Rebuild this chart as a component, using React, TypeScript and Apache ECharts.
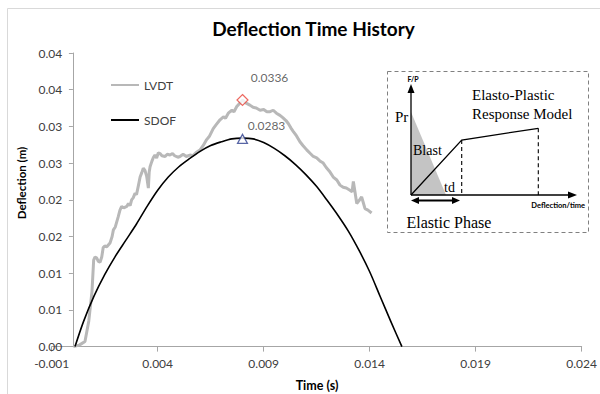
import React, { useEffect, useRef } from "react";
import * as echarts from "echarts";

const titleText = "Deflection Time History";
const xAxisName = "Time (s)";
const yAxisName = "Deflection (m)";
const seriesNames = ["LVDT", "SDOF"];

const xTicks = [-0.001, 0.004, 0.009, 0.014, 0.019, 0.024];
const yTickLabels = ["0.00", "0.01", "0.01", "0.02", "0.02", "0.03", "0.03", "0.04", "0.04"];

const lvdtTime = [
  0.00002, 0.0003, 0.00057, 0.00075, 0.0009, 0.00098, 0.00104, 0.00112, 0.0012, 0.00128,
  0.00136, 0.00143, 0.0015, 0.0016, 0.00175, 0.00185, 0.00191, 0.002, 0.00214, 0.00222,
  0.0023, 0.0024, 0.00254, 0.00262, 0.0027, 0.00277, 0.00285, 0.00293, 0.003, 0.00308,
  0.00317, 0.00325, 0.00332, 0.0034, 0.00348, 0.00356, 0.0036, 0.00364, 0.00372, 0.0038,
  0.00387, 0.00395, 0.00403, 0.00411, 0.0042, 0.00435, 0.00445, 0.00458, 0.0047, 0.0048,
  0.00495, 0.00505, 0.0052, 0.00535, 0.00552, 0.00565, 0.0058, 0.0059, 0.006, 0.00615,
  0.00631, 0.00645, 0.00662, 0.00675, 0.00694, 0.0071, 0.0072, 0.00733, 0.0075, 0.0076,
  0.00773, 0.00785, 0.00801, 0.00815, 0.00835, 0.0085, 0.00865, 0.00883, 0.009, 0.00915,
  0.0093, 0.00945, 0.0096, 0.00977, 0.0099, 0.01005, 0.01016, 0.01028, 0.0104, 0.01055,
  0.01071, 0.01085, 0.01103, 0.0112, 0.01134, 0.0115, 0.01165, 0.01181, 0.01195, 0.0121,
  0.01228, 0.01245, 0.0126, 0.01275, 0.0129, 0.01307, 0.01317, 0.01323, 0.0133, 0.01339,
  0.0135, 0.01362, 0.0137, 0.01378, 0.01392, 0.01409,
];
const lvdtDefl = [
  0.0, 0.0002, 0.0007, 0.0035, 0.0075, 0.0118, 0.0122, 0.0121, 0.0116, 0.0115,
  0.0122, 0.0135, 0.0137, 0.0136, 0.0141, 0.015, 0.0159, 0.0163, 0.0177, 0.0186,
  0.0191, 0.0189, 0.0191, 0.0195, 0.0192, 0.02, 0.0203, 0.0209, 0.0207, 0.0218,
  0.0231, 0.0237, 0.0243, 0.024, 0.0232, 0.0216, 0.0238, 0.0245, 0.0252, 0.0258,
  0.0261, 0.0257, 0.0264, 0.0263, 0.026, 0.0259, 0.0262, 0.0261, 0.0263, 0.026,
  0.0258, 0.0259, 0.0262, 0.0259, 0.0261, 0.026, 0.0264, 0.0266, 0.0268, 0.0274,
  0.0282, 0.0287, 0.0297, 0.0302, 0.0309, 0.0313, 0.0311, 0.0318, 0.0322, 0.032,
  0.0327, 0.0331, 0.0336, 0.0332, 0.0329, 0.0326, 0.0325, 0.0322, 0.0323, 0.032,
  0.032, 0.0322, 0.0318, 0.0315, 0.0312, 0.0308, 0.0304, 0.0298, 0.0293, 0.0287,
  0.0279, 0.0274, 0.0268, 0.0263, 0.0259, 0.0257, 0.0253, 0.025, 0.0244, 0.0239,
  0.0231, 0.0227, 0.022, 0.0217, 0.0216, 0.0213, 0.0211, 0.0225, 0.0212, 0.0195,
  0.0199, 0.0204, 0.0196, 0.0188, 0.0186, 0.0182,
];

const sdofTime = [
  0.0001, 0.0005, 0.001, 0.0015, 0.002, 0.0025, 0.003, 0.0035, 0.004, 0.0045,
  0.005, 0.0055, 0.006, 0.0065, 0.007, 0.0075, 0.008, 0.0085, 0.009, 0.0095,
  0.01, 0.0105, 0.011, 0.0115, 0.012, 0.0125, 0.013, 0.0135, 0.014, 0.0145,
  0.015, 0.01552,
];
const sdofDefl = [
  0.0, 0.0034, 0.0069, 0.0098, 0.0123, 0.0145, 0.0167, 0.0191, 0.0213, 0.0231,
  0.0245, 0.0256, 0.0266, 0.0274, 0.0279, 0.0283, 0.0284, 0.0283, 0.0278, 0.027,
  0.026, 0.0248, 0.0234, 0.0218, 0.0199, 0.0179, 0.0157, 0.0131, 0.0102, 0.0068,
  0.0034, 0.0,
];

const peakTime = [0.008, 0.008];
const peakValue = [0.0336, 0.0283];

const sans = "Lato, 'Open Sans', sans-serif";
const serif = "'Liberation Serif', 'DejaVu Serif', serif";

export default function App() {
  const ref = useRef<HTMLDivElement>(null);
  useEffect(() => {
    if (!ref.current) return;
    const chart = echarts.init(ref.current, null, { renderer: "svg" });
    const lvdt = lvdtTime.map((t, i) => [t, lvdtDefl[i]]);
    const sdof = sdofTime.map((t, i) => [t, sdofDefl[i]]);
    const axisColor = "#a6a6a6";
    const labelColor = "#404040";
    const inkLine = { stroke: "#000", lineWidth: 1.3, fill: "none" };
    chart.setOption({
      animation: false,
      backgroundColor: "#fff",
      grid: { left: 51.7, right: 18.3, top: 53, bottom: 47.4, containLabel: false },
      xAxis: {
        type: "value",
        min: -0.001,
        max: 0.024,
        axisLine: { show: true, onZero: true, lineStyle: { color: axisColor, width: 1 } },
        axisTick: { show: true, length: 5, customValues: xTicks, lineStyle: { color: axisColor } },
        axisLabel: {
          customValues: xTicks,
          color: labelColor,
          fontFamily: sans,
          fontSize: 12,
          margin: 11,
          formatter: (v: number) => v.toFixed(3),
        },
        splitLine: { show: false },
      },
      yAxis: {
        type: "value",
        min: 0,
        max: 0.04,
        interval: 0.005,
        axisLine: { show: true, onZero: true, lineStyle: { color: axisColor, width: 1 } },
        axisTick: { show: true, length: 4, lineStyle: { color: axisColor } },
        axisLabel: {
          color: labelColor,
          fontFamily: sans,
          fontSize: 12,
          margin: -10.5,
          formatter: (v: number) => yTickLabels[Math.round(v / 0.005)] ?? "",
        },
        splitLine: { show: false },
      },
      legend: {
        orient: "vertical",
        left: 105,
        top: 74,
        itemWidth: 28,
        itemHeight: 14,
        itemGap: 23,
        data: seriesNames,
        itemStyle: { opacity: 0 },
        textStyle: { fontFamily: sans, fontSize: 12, color: labelColor },
      },
      series: [
        {
          name: seriesNames[0],
          type: "line",
          data: lvdt,
          showSymbol: false,
          symbol: "none",
          lineStyle: { color: "#b8b8b8", width: 3 },
          itemStyle: { color: "#b8b8b8" },
          z: 2,
        },
        {
          name: seriesNames[1],
          type: "line",
          data: sdof,
          showSymbol: false,
          symbol: "none",
          smooth: 0.3,
          lineStyle: { color: "#000", width: 1.6 },
          itemStyle: { color: "#000" },
          z: 3,
        },
        {
          name: "peakLVDT",
          type: "scatter",
          data: [[peakTime[0], peakValue[0]]],
          symbol: "diamond",
          symbolSize: [11, 11],
          itemStyle: { color: "#fff", borderColor: "#e8443a", borderWidth: 1.2 },
          label: {
            show: true,
            position: "inside",
            offset: [27, -22],
            formatter: (p: any) => p.value[1].toFixed(4),
            color: labelColor,
            fontFamily: sans,
            fontSize: 12,
          },
          z: 5,
        },
        {
          name: "peakSDOF",
          type: "scatter",
          data: [[peakTime[1], peakValue[1]]],
          symbol: "triangle",
          symbolSize: [10, 9],
          itemStyle: { color: "#fff", borderColor: "#2d3f8f", borderWidth: 1.2 },
          label: {
            show: true,
            position: "inside",
            offset: [24, -13],
            formatter: (p: any) => p.value[1].toFixed(4),
            color: labelColor,
            fontFamily: sans,
            fontSize: 12,
          },
          z: 5,
        },
      ],
      graphic: [
        {
          type: "rect",
          silent: true,
          z: -10,
          shape: { x: 7.5, y: 8.5, width: 600, height: 400 },
          style: { fill: "none", stroke: "#d9d9d9", lineWidth: 1 },
        },
        {
          type: "text",
          x: 313.5,
          y: 28,
          style: {
            text: titleText,
            align: "center",
            verticalAlign: "middle",
            fontFamily: sans,
            fontWeight: "bold",
            fontSize: 19,
            fill: "#000",
          },
        },
        {
          type: "text",
          x: 21,
          y: 183,
          rotation: Math.PI / 2,
          style: {
            text: yAxisName,
            align: "center",
            verticalAlign: "middle",
            fontFamily: sans,
            fontWeight: "bold",
            fontSize: 11.5,
            fill: "#000",
          },
        },
        {
          type: "text",
          x: 317,
          y: 385,
          style: {
            text: xAxisName,
            align: "center",
            verticalAlign: "middle",
            fontFamily: sans,
            fontWeight: "bold",
            fontSize: 12.5,
            fill: "#000",
          },
        },
        {
          type: "group",
          z: 20,
          children: [
            {
              type: "rect",
              shape: { x: 387.5, y: 71.5, width: 201, height: 161 },
              style: { fill: "#fff", stroke: "#808080", lineWidth: 1, lineDash: [4, 3] },
            },
            {
              type: "polygon",
              shape: { points: [[411, 112], [411, 195], [446, 195]] },
              style: { fill: "#c4c4c4" },
            },
            { type: "line", shape: { x1: 411, y1: 195, x2: 411, y2: 90 }, style: inkLine },
            { type: "polygon", shape: { points: [[411, 84], [407.5, 93], [414.5, 93]] }, style: { fill: "#000" } },
            { type: "line", shape: { x1: 411, y1: 195, x2: 570, y2: 195 }, style: inkLine },
            { type: "polygon", shape: { points: [[577, 195], [568, 191.5], [568, 198.5]] }, style: { fill: "#000" } },
            {
              type: "polyline",
              shape: { points: [[411, 195], [461.7, 140], [538.3, 128.3]] },
              style: inkLine,
            },
            {
              type: "line",
              shape: { x1: 461.7, y1: 140, x2: 461.7, y2: 195 },
              style: { stroke: "#000", lineWidth: 1.1, lineDash: [4, 3] },
            },
            {
              type: "line",
              shape: { x1: 538.3, y1: 128.3, x2: 538.3, y2: 195 },
              style: { stroke: "#000", lineWidth: 1.1, lineDash: [4, 3] },
            },
            { type: "line", shape: { x1: 417, y1: 200.5, x2: 454, y2: 200.5 }, style: { stroke: "#000", lineWidth: 1.8 } },
            { type: "polygon", shape: { points: [[411, 200.5], [419, 197], [419, 204]] }, style: { fill: "#000" } },
            { type: "polygon", shape: { points: [[460, 200.5], [452, 197], [452, 204]] }, style: { fill: "#000" } },
            {
              type: "text",
              x: 413,
              y: 79,
              style: { text: "F/P", align: "center", verticalAlign: "middle", fontFamily: sans, fontWeight: "bold", fontSize: 7, fill: "#000" },
            },
            {
              type: "text",
              x: 395,
              y: 117,
              style: { text: "Pr", align: "left", verticalAlign: "middle", fontFamily: serif, fontSize: 15, fill: "#000" },
            },
            {
              type: "text",
              x: 413,
              y: 150,
              style: { text: "Blast", align: "left", verticalAlign: "middle", fontFamily: serif, fontSize: 14, fill: "#000" },
            },
            {
              type: "text",
              x: 444,
              y: 187,
              style: { text: "td", align: "left", verticalAlign: "middle", fontFamily: serif, fontSize: 14, fill: "#000" },
            },
            {
              type: "text",
              x: 472,
              y: 95,
              style: { text: "Elasto-Plastic", align: "left", verticalAlign: "middle", fontFamily: serif, fontSize: 15, fill: "#000" },
            },
            {
              type: "text",
              x: 472,
              y: 113.5,
              style: { text: "Response Model", align: "left", verticalAlign: "middle", fontFamily: serif, fontSize: 15, fill: "#000" },
            },
            {
              type: "text",
              x: 585,
              y: 205,
              style: { text: "Deflection/time", align: "right", verticalAlign: "middle", fontFamily: sans, fontWeight: "bold", fontSize: 7.5, fill: "#000" },
            },
            {
              type: "text",
              x: 406.5,
              y: 222,
              style: { text: "Elastic Phase", align: "left", verticalAlign: "middle", fontFamily: serif, fontSize: 16, fill: "#000" },
            },
          ],
        },
      ],
    });
    return () => chart.dispose();
  }, []);
  return <div ref={ref} style={{ width: 600, height: 394, position: "fixed", left: 0, top: 0 }} />;
}
